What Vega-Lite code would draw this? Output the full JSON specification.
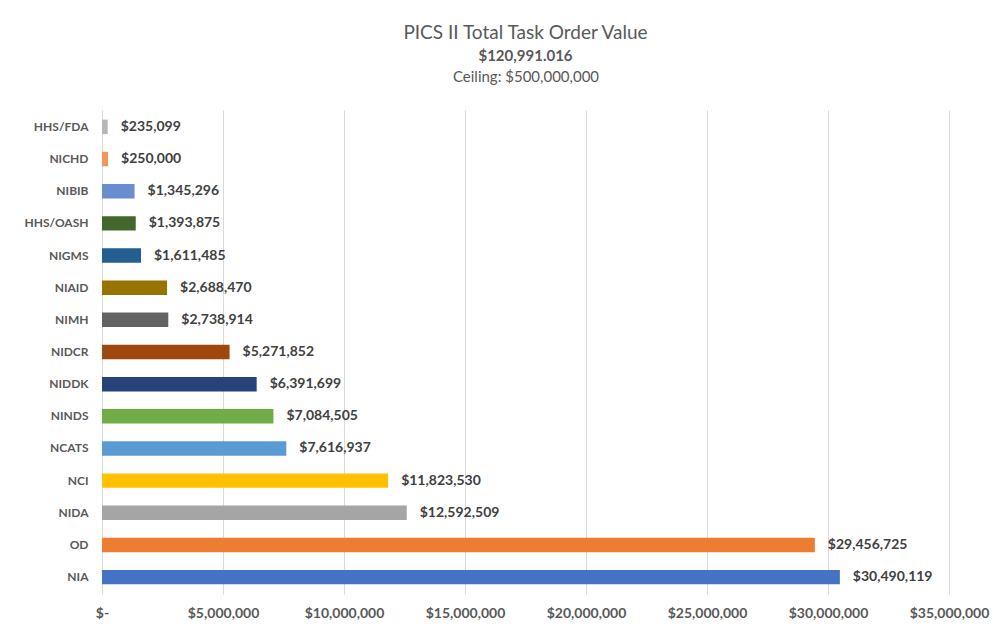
{
  "$schema": "https://vega.github.io/schema/vega-lite/v6.json",
  "width": 847,
  "height": 484,
  "padding": {"left": 23, "top": 24, "right": 25, "bottom": 4},
  "background": "white",
  "title": {
    "text": "PICS II Total Task Order Value",
    "subtitle": "$120,991.016",
    "font": "Lato",
    "fontSize": 19,
    "fontWeight": "normal",
    "color": "#595959",
    "subtitleFont": "Lato",
    "subtitleFontSize": 15,
    "subtitleFontWeight": "bold",
    "subtitleColor": "#595959",
    "subtitlePadding": 6,
    "anchor": "middle",
    "offset": 5
  },
  "data": {
    "values": [
      {"agency": "HHS/FDA", "value": 235099, "color": "#B7B7B7"},
      {"agency": "NICHD", "value": 250000, "color": "#F1975A"},
      {"agency": "NIBIB", "value": 1345296, "color": "#698ED0"},
      {"agency": "HHS/OASH", "value": 1393875, "color": "#43682B"},
      {"agency": "NIGMS", "value": 1611485, "color": "#255E91"},
      {"agency": "NIAID", "value": 2688470, "color": "#997300"},
      {"agency": "NIMH", "value": 2738914, "color": "#636363"},
      {"agency": "NIDCR", "value": 5271852, "color": "#9E480E"},
      {"agency": "NIDDK", "value": 6391699, "color": "#264478"},
      {"agency": "NINDS", "value": 7084505, "color": "#70AD47"},
      {"agency": "NCATS", "value": 7616937, "color": "#5B9BD5"},
      {"agency": "NCI", "value": 11823530, "color": "#FFC000"},
      {"agency": "NIDA", "value": 12592509, "color": "#A5A5A5"},
      {"agency": "OD", "value": 29456725, "color": "#ED7D31"},
      {"agency": "NIA", "value": 30490119, "color": "#4472C4"}
    ]
  },
  "encoding": {
    "y": {
      "field": "agency",
      "type": "nominal",
      "sort": null,
      "title": null,
      "scale": {"paddingInner": 0.55, "paddingOuter": 0.3},
      "axis": {
        "labelFont": "Lato",
        "labelFontSize": 12,
        "labelFontWeight": "bold",
        "labelColor": "#595959",
        "labelPadding": 14,
        "ticks": false,
        "domain": false
      }
    }
  },
  "layer": [
    {
      "mark": {"type": "bar"},
      "encoding": {
        "x": {
          "field": "value",
          "type": "quantitative",
          "scale": {"domain": [0, 35000000], "nice": false},
          "axis": {
            "orient": "bottom",
            "title": null,
            "values": [0, 5000000, 10000000, 15000000, 20000000, 25000000, 30000000, 35000000],
            "labelExpr": "datum.value == 0 ? '$-' : format(datum.value, '$,.0f')",
            "labelFont": "Lato",
            "labelFontSize": 14,
            "labelFontWeight": "bold",
            "labelColor": "#595959",
            "labelPadding": 12,
            "labelFlush": false,
            "labelOverlap": false,
            "ticks": false,
            "domain": false,
            "grid": true,
            "gridColor": "#D9D9D9",
            "gridWidth": 1
          }
        },
        "color": {"field": "color", "type": "nominal", "scale": null, "legend": null}
      }
    },
    {
      "mark": {
        "type": "text",
        "align": "left",
        "baseline": "middle",
        "dx": 13,
        "font": "Lato",
        "fontSize": 14,
        "fontWeight": "bold",
        "color": "#404040"
      },
      "encoding": {
        "x": {
          "field": "value",
          "type": "quantitative",
          "axis": {
            "orient": "top",
            "title": "Ceiling: $500,000,000",
            "titleFont": "Lato",
            "titleFontSize": 15,
            "titleFontWeight": "normal",
            "titleColor": "#595959",
            "titlePadding": 26,
            "labels": false,
            "ticks": false,
            "domain": false,
            "grid": false
          }
        },
        "text": {"field": "value", "type": "quantitative", "format": "$,.0f"}
      }
    }
  ],
  "config": {
    "view": {"stroke": null}
  }
}
